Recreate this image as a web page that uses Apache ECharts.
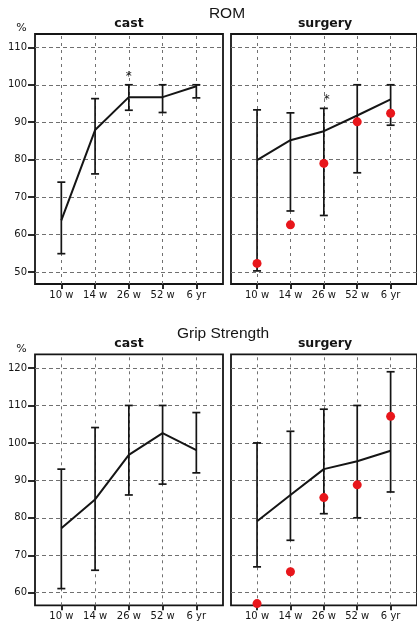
<!DOCTYPE html>
<html><head><meta charset="utf-8">
<script src="https://cdn.jsdelivr.net/npm/echarts@6/dist/echarts.min.js"></script>
<style>html,body{margin:0;padding:0;background:#fff}#c{width:417px;height:627px}</style>
</head><body><div id="c"></div>
<script>
// ---- data ----
const timeLabels = ['10 w', '14 w', '26 w', '52 w', '6 yr'];
const timeIndex = [0, 1, 2, 3, 4];
const romTicks = [50, 60, 70, 80, 90, 100, 110];
const gripTicks = [60, 70, 80, 90, 100, 110, 120];

const romCastMean = [63.8, 87.9, 96.7, 96.7, 99.6];
const romCastLow  = [54.9, 76.2, 93.2, 92.6, 96.5];
const romCastHigh = [74.0, 96.3, 100, 100, 100];
const romSurgMean = [79.9, 85.2, 87.6, 91.8, 96.1];
const romSurgLow  = [50.3, 66.3, 65.1, 76.5, 89.2];
const romSurgHigh = [93.3, 92.5, 93.7, 100, 100];
const romSurgDots = [52.3, 62.6, 79.0, 90.1, 92.4];
const romCastStar = [[2, 102.8]];
const romSurgStar = [[2, 96.8]];

const gripCastMean = [77.2, 84.9, 96.8, 102.6, 98.1];
const gripCastLow  = [61.1, 66.0, 86.1, 89.0, 92.0];
const gripCastHigh = [93.0, 104.1, 110, 110, 108.1];
const gripSurgMean = [79.1, 86.1, 93.0, 95.1, 97.9];
const gripSurgLow  = [66.9, 74.0, 81.1, 80.0, 86.9];
const gripSurgHigh = [100, 103.1, 109.0, 110, 119.0];
const gripSurgDots = [57.1, 65.6, 85.4, 88.8, 107.1];

// ---- styling ----
const INK = '#151515';
const GRIDC = '#707070';
const RED = '#e8161b';
const NUMFONT = 'DejaVu Sans';

const panels = [
  {grid: {left: 35, top: 34, width: 188, height: 250}, ymin: 46.8, ymax: 113.56, ticks: romTicks, showY: true,
   mean: romCastMean, low: romCastLow, high: romCastHigh, dots: null, star: romCastStar, starDx: 0},
  {grid: {left: 231, top: 34, width: 188, height: 250}, ymin: 46.8, ymax: 113.56, ticks: romTicks, showY: false,
   mean: romSurgMean, low: romSurgLow, high: romSurgHigh, dots: romSurgDots, star: romSurgStar, starDx: 3},
  {grid: {left: 35, top: 354.3, width: 188, height: 251}, ymin: 56.64, ymax: 123.66, ticks: gripTicks, showY: true,
   mean: gripCastMean, low: gripCastLow, high: gripCastHigh, dots: null, star: null},
  {grid: {left: 231, top: 354.3, width: 188, height: 251}, ymin: 56.64, ymax: 123.66, ticks: gripTicks, showY: false,
   mean: gripSurgMean, low: gripSurgLow, high: gripSurgHigh, dots: gripSurgDots, star: null}
];

const grid = [], xAxis = [], yAxis = [], series = [];
panels.forEach((p, i) => {
  grid.push(Object.assign({show: true, borderColor: INK, borderWidth: 1.8, backgroundColor: 'transparent', containLabel: false}, p.grid));
  xAxis.push({
    type: 'value', gridIndex: i, min: -0.78, max: 4.79, position: 'bottom',
    splitLine: {show: false},
    axisLine: {show: false, onZero: false},
    axisTick: {show: true, customValues: timeIndex, length: 5, lineStyle: {color: INK, width: 1.8}},
    axisLabel: {show: true, customValues: timeIndex, margin: 6, fontSize: 10, fontFamily: NUMFONT, color: INK,
                formatter: v => timeLabels[Math.round(v)] || ''}
  });
  yAxis.push({
    type: 'value', gridIndex: i, min: p.ymin, max: p.ymax, position: 'left',
    axisLine: {show: false, onZero: false},
    splitLine: {show: true, lineStyle: {color: GRIDC, type: [4, 3], width: 1}},
    axisTick: {show: p.showY, customValues: p.ticks, length: 7, lineStyle: {color: INK, width: 1.8}},
    axisLabel: {show: p.showY, customValues: p.ticks, margin: 8, fontSize: 10, fontFamily: NUMFONT, color: INK,
                formatter: v => (Math.abs(v - Math.round(v)) < 1e-6 && Math.round(v) % 10 === 0) ? String(Math.round(v)) : ''}
  });
  series.push({
    type: 'line', xAxisIndex: i, yAxisIndex: i, z: 4,
    data: p.mean.map((v, k) => [timeIndex[k], v]),
    symbol: 'none', lineStyle: {color: INK, width: 2}, itemStyle: {color: INK},
    markLine: {silent: true, symbol: 'none', label: {show: false}, animation: false, z: 1,
               lineStyle: {color: GRIDC, type: [3, 4], width: 1},
               emphasis: {disabled: true},
               data: timeIndex.map(v => ({xAxis: v}))}
  });
  series.push({
    type: 'custom', xAxisIndex: i, yAxisIndex: i, z: 3,
    data: p.low.map((l, k) => [timeIndex[k], l, p.high[k]]),
    encode: {x: 0, y: [1, 2]},
    renderItem: (params, api) => {
      const x = api.value(0);
      const lo = api.coord([x, api.value(1)]);
      const hi = api.coord([x, api.value(2)]);
      const w = 4, st = {stroke: INK, lineWidth: 1.7};
      return {type: 'group', children: [
        {type: 'line', shape: {x1: lo[0], y1: lo[1], x2: hi[0], y2: hi[1]}, style: st},
        {type: 'line', shape: {x1: hi[0] - w, y1: hi[1], x2: hi[0] + w, y2: hi[1]}, style: st},
        {type: 'line', shape: {x1: lo[0] - w, y1: lo[1], x2: lo[0] + w, y2: lo[1]}, style: st}
      ]};
    }
  });
  if (p.dots) {
    series.push({
      type: 'scatter', xAxisIndex: i, yAxisIndex: i, z: 6,
      data: p.dots.map((v, k) => [timeIndex[k], v]),
      symbol: 'circle', symbolSize: 9, itemStyle: {color: RED, opacity: 1}
    });
  }
  if (p.star) {
    series.push({
      type: 'custom', xAxisIndex: i, yAxisIndex: i, z: 7,
      data: p.star, encode: {x: 0, y: 1},
      renderItem: (params, api) => {
        const c = api.coord([api.value(0), api.value(1)]);
        return {type: 'text', x: c[0] + p.starDx, y: c[1] + 3,
                style: {text: '*', fontSize: 12, fontFamily: NUMFONT, fill: INK, textAlign: 'center', textVerticalAlign: 'middle'}};
      }
    });
  }
});

const txt = (text, x, y, size, weight, family) => ({
  type: 'text', x: x, y: y, silent: true,
  style: {text: text, fontSize: size, fontWeight: weight || 'normal', fontFamily: family || NUMFONT,
          fill: INK, textAlign: 'center', textVerticalAlign: 'middle'}
});

const option = {
  animation: false,
  backgroundColor: '#fff',
  grid, xAxis, yAxis, series,
  graphic: [
    txt('ROM', 227, 13.5, 15.5, 'normal', 'Liberation Sans'),
    txt('Grip Strength', 223, 333.5, 15.5, 'normal', 'Liberation Sans'),
    txt('cast', 129, 24, 12.5, 'bold'),
    txt('surgery', 325, 24, 12.5, 'bold'),
    txt('cast', 129, 344, 12.5, 'bold'),
    txt('surgery', 325, 344, 12.5, 'bold'),
    txt('%', 21.5, 28, 11),
    txt('%', 21.5, 349, 11)
  ]
};
const chart = echarts.init(document.getElementById('c'), null, {renderer: 'canvas'});
chart.setOption(option);
</script></body></html>
